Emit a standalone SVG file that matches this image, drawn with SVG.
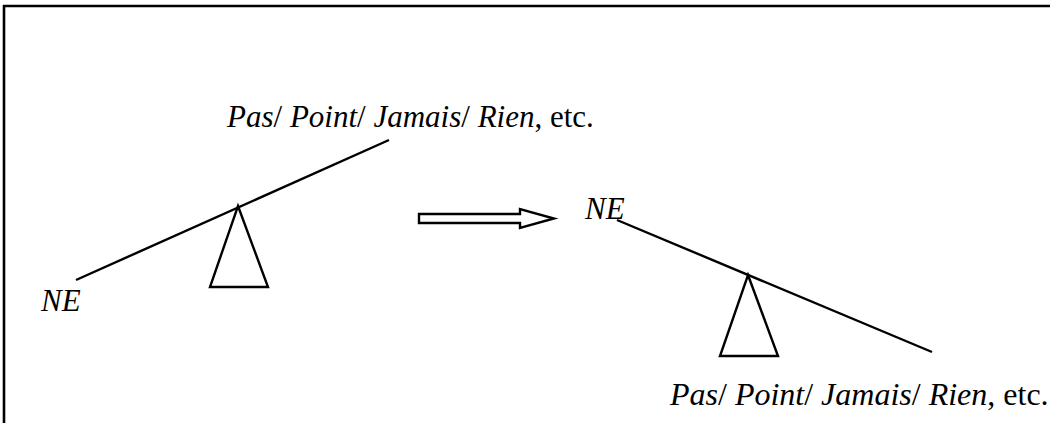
<svg xmlns="http://www.w3.org/2000/svg" width="1050" height="423" viewBox="0 0 1050 423">
  <style>
    .ln { stroke: #000; stroke-width: 2.4; fill: none; }
    .frame { stroke: #000; stroke-width: 2.6; fill: none; }
    .tri { stroke: #000; stroke-width: 2.4; fill: #fff; stroke-linejoin: miter; }
    .txt { font-size: 31px; fill: #000; }
    .big { font-size: 32px; }
    .it { font-style: italic; }
  </style>
  <rect width="1050" height="423" fill="#fff"/>

  <!-- frame: top and left edges -->
  <g id="frame">
    <line class="frame" x1="3" y1="6" x2="1050" y2="6"/>
    <line class="frame" x1="4" y1="5" x2="4" y2="423"/>
  </g>

  <!-- left balance: beam tilted up to the right -->
  <g id="balance-left" font-family="'Liberation Serif', 'Times New Roman', Times, serif">
    <line class="ln" x1="76" y1="280" x2="389" y2="140"/>
    <polygon class="tri" points="238,206 268,287 210,287"/>
    <text class="txt it" x="41" y="311">NE</text>
    <text class="txt" x="227" y="127"><tspan class="it">Pas</tspan>/ <tspan class="it">Point</tspan>/ <tspan class="it">Jamais</tspan>/ <tspan class="it">Rien</tspan>, etc.</text>
  </g>

  <!-- transition arrow -->
  <g id="connectors">
    <polygon class="ln" points="419,214 520,214 520,209 554,218.5 520,228 520,223 419,223"/>
  </g>

  <!-- right balance: beam tilted down to the right -->
  <g id="balance-right" font-family="'Liberation Serif', 'Times New Roman', Times, serif">
    <line class="ln" x1="617" y1="220" x2="932" y2="352"/>
    <polygon class="tri" points="748,275 778,356 720,356"/>
    <text class="txt it" x="585" y="219">NE</text>
    <text class="txt big" x="670" y="405"><tspan class="it">Pas</tspan>/ <tspan class="it">Point</tspan>/ <tspan class="it">Jamais</tspan>/ <tspan class="it">Rien</tspan>, etc.</text>
  </g>
</svg>
